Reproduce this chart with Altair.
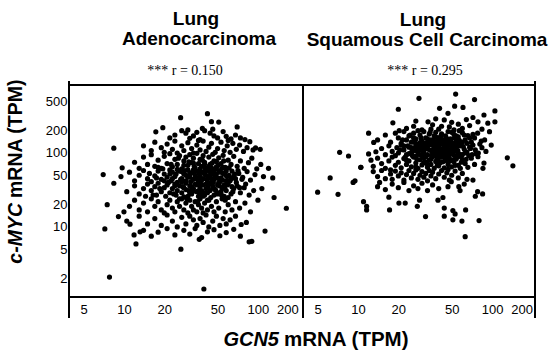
import altair as alt
import pandas as pd

# ---- data (GCN5 TPM, c-MYC TPM) ----
luad_points = [
    (42, 340), (26.5, 300), (45, 265), (51, 262), (70, 225), (38.5, 215), (19.5, 220), (17.3, 193),
    (8.4, 116), (7.0, 51), (7.5, 20), (7.2, 9.4), (7.8, 2.1), (39.5, 1.45), (8.4, 39), (9.7, 63),
    (9.1, 13.8), (10, 16), (11.1, 10.9), (12.3, 5.9), (11.9, 7.8), (13.2, 8.6), (26.6, 5.0), (36.5, 6.8),
    (86, 6.3), (90, 6.4), (113, 8.8), (163, 17.9), (132, 25), (129, 46), (107, 33), (100, 23), (98, 61),
    (96, 117), (87, 142),
    (22, 160), (24, 175), (27, 200), (29, 185), (31, 158), (33, 170), (35, 190), (37, 152), (40, 200),
    (44, 185), (47, 170), (50, 160), (55, 195), (58, 168), (63, 155), (68, 175), (74, 160), (80, 152),
    (30, 205), (46, 210),
    (14, 125), (16, 108), (17, 140), (19, 118), (20, 102), (21, 132), (23, 112), (24, 145), (25, 100),
    (27, 125), (28, 108), (30, 138), (32, 115), (33, 100), (35, 128), (37, 110), (39, 145), (41, 105),
    (43, 120), (45, 135), (48, 102), (50, 115), (53, 140), (56, 108), (59, 125), (62, 102), (65, 135),
    (69, 112), (73, 128), (78, 105), (83, 118), (92, 110), (104, 112), (60, 148), (36, 148),
    (12, 75), (13, 62), (14, 88), (15, 70), (16, 95), (17, 66), (18, 80), (19, 62), (20, 90), (21, 72),
    (22, 98), (23, 65), (24, 82), (25, 70), (26, 92), (27, 61), (28, 78), (29, 88), (30, 68), (31, 95),
    (32, 74), (33, 85), (34, 63), (35, 99), (36, 72), (37, 82), (38, 66), (39, 92), (40, 75), (42, 62),
    (43, 88), (44, 70), (46, 96), (47, 78), (49, 65), (51, 86), (53, 72), (55, 93), (57, 64), (60, 80),
    (63, 70), (66, 90), (70, 66), (74, 78), (79, 62), (85, 74), (90, 85), (105, 70), (120, 62),
    (9.5, 48), (11, 55), (12, 42), (13, 50), (14, 58), (15, 45), (15.5, 53), (16, 41), (17, 49), (18, 57),
    (19, 44), (20, 52), (21, 47), (22, 59), (22.5, 42), (23, 55), (24, 48), (25, 40), (26, 57), (27, 45),
    (28, 52), (29, 42), (30, 59), (31, 48), (32, 54), (33, 44), (34, 50), (35, 57), (36, 42), (37, 48),
    (38, 55), (39, 45), (40, 52), (41, 58), (42, 41), (44, 49), (45, 55), (47, 44), (49, 52), (51, 58),
    (53, 46), (55, 53), (58, 42), (61, 50), (64, 57), (68, 45), (72, 53), (77, 47), (83, 56), (88, 43),
    (95, 51), (110, 48),
    (10.5, 30), (12, 36), (13, 28), (14, 33), (14.5, 26), (15, 38), (16, 31), (17, 35), (17.5, 27), (18, 39),
    (19, 30), (20, 34), (20.5, 26), (21, 37), (22, 29), (23, 33), (24, 38), (24.5, 27), (25, 31), (26, 36),
    (27, 29), (28, 34), (29, 39), (30, 26), (30.5, 31), (31, 36), (32, 28), (33, 33), (34, 38), (35, 30),
    (36, 26), (37, 35), (38, 31), (39, 37), (40, 27), (41, 33), (42, 29), (43, 38), (44, 31), (46, 35),
    (47, 27), (48, 32), (50, 37), (52, 29), (54, 34), (56, 26), (58, 31), (60, 38), (63, 28), (66, 33),
    (70, 36), (74, 29), (79, 34), (86, 27), (93, 31), (28, 25.5), (36, 39.5),
    (11, 19), (12, 23), (13, 17), (14, 21), (15, 16), (16, 24), (17, 19), (18, 22), (19, 17), (20, 15.5),
    (21, 20), (22, 23), (23, 18), (24, 16), (25, 22), (26, 19), (27, 24), (28, 17), (29, 21), (30, 15.5),
    (31, 23), (32, 19), (33, 17), (34, 22), (35, 16), (36, 20), (37, 24), (38, 18), (39, 15.5), (40, 21),
    (42, 17), (43, 23), (45, 19), (47, 16), (49, 22), (51, 18), (54, 24), (57, 16), (60, 20), (64, 17),
    (68, 22), (73, 18), (80, 21), (88, 16),
    (10.5, 12), (13, 14), (15, 11), (17, 13), (19, 10.5), (21, 14.5), (23, 12), (25, 10), (27, 13.5),
    (29, 11), (31, 14), (33, 12.5), (35, 10.5), (37, 13), (39, 11.5), (41, 14.5), (43, 10), (46, 12),
    (49, 14), (52, 10.5), (55, 13), (58, 11), (62, 12.5), (68, 14), (75, 10.8), (82, 11.5),
    (14, 9), (16, 7.5), (18, 8.5), (21, 9.5), (24, 7.8), (28, 9), (31, 8), (34, 9.5), (38, 7.2), (42, 8.6),
    (47, 9.2), (52, 7.6), (58, 8.4), (66, 9.3), (74, 7.5),
    # dense core
    (17.5, 46), (18.5, 33), (19.5, 61), (21.5, 40), (22.5, 70), (23.5, 28), (24.5, 52), (25.5, 85),
    (26.5, 44), (27.5, 35), (28.5, 58), (29.5, 24), (30.5, 76), (31.5, 41), (32.5, 30), (33.5, 66),
    (34.5, 47), (35.5, 22), (36.5, 53), (37.5, 38), (38.5, 80), (39.5, 29), (40.5, 62), (41.5, 44),
    (42.5, 34), (43.5, 56), (44.5, 25), (45.5, 73), (46.5, 40), (47.5, 60), (48.5, 31), (49.5, 46),
    (50.5, 68), (51.5, 36), (52.5, 55), (53.5, 27), (54.5, 43), (55.5, 78), (56.5, 33), (57.5, 50),
    (59, 37), (61, 63), (63, 45), (65, 30), (67, 52), (69, 40), (71, 58), (73, 34), (76, 44), (81, 38),
    (16.5, 27), (18, 64), (20, 42), (22, 52), (24, 36), (26, 24), (28, 68), (30, 47), (32, 35), (34, 57),
    (36, 31), (38, 43), (40, 71), (42, 23), (44, 39), (46, 60), (48, 48), (50, 28), (52, 41), (54, 62),
    (56, 37), (58, 57), (60, 25), (62, 42), (64, 35), (66, 48),
    (25, 60), (27, 41), (29, 32), (31, 54), (33, 73), (35, 37), (37, 61), (39, 26), (41, 50), (43, 66),
    (45, 45), (47, 33), (49, 77), (51, 40), (53, 30), (55, 64), (57, 23), (59, 48), (31, 29), (35, 45),
    (39, 55), (43, 47), (47, 52), (33, 59), (37, 28), (41, 38), (45, 63), (29, 50), (27, 56), (23, 45),
]

lusc_points = [
    (28.5, 548), (53.5, 625), (74, 528), (20, 390), (105, 370), (105, 264), (12, 185), (7.3, 102),
    (8.5, 91), (6.2, 46), (5, 29.5), (7.1, 27.6), (9.2, 40), (9.5, 42), (10.5, 64), (11, 22), (11.6, 19),
    (11.6, 17), (17, 25.3), (17.2, 17), (20.2, 21), (22.5, 21), (27.7, 19), (28.8, 23), (31.9, 13.8),
    (39.5, 23), (43, 25), (44, 18), (44, 14), (51, 16.7), (53, 15), (51, 12.5), (59.6, 12), (63.5, 17),
    (63, 7.4), (80, 12.2), (75, 26), (78, 30), (85, 28), (130, 86), (143, 67),
    (40.6, 401), (46.9, 344), (52.6, 430), (60.7, 413), (87, 326),
    (18.2, 256), (20.3, 200), (23, 215), (33.3, 264), (64.3, 283), (72, 302), (78.5, 264), (93, 253),
    (26, 230), (30, 205), (36, 240), (40, 210), (44, 280), (48, 225), (52, 205), (56, 245), (60, 215),
    (68, 235), (84, 210), (38, 290), (50, 260), (27, 270),
    (14, 150), (16, 175), (17.5, 140), (19, 185), (20, 160), (21, 135), (22, 195), (23, 150), (24, 170),
    (25, 140), (26, 185), (27, 155), (28, 132), (29, 175), (30, 145), (31, 195), (32, 160), (33, 138),
    (34, 180), (35, 150), (36, 130), (37, 170), (38, 190), (39, 145), (40, 160), (41, 135), (42, 182),
    (43, 150), (45, 170), (46, 138), (47, 195), (49, 155), (50, 132), (52, 178), (54, 145), (56, 165),
    (58, 135), (60, 188), (63, 150), (66, 172), (70, 140), (74, 160), (78, 185), (83, 145), (95.7, 194),
    (88, 150),
    (12, 97), (13.6, 104), (13.1, 139), (15, 115), (16, 95), (17, 125), (18, 105), (19, 92), (19.5, 118),
    (20, 100), (21, 128), (22, 110), (23, 95), (24, 120), (25, 102), (25.5, 92), (26, 115), (27, 126),
    (28, 98), (29, 110), (30, 92), (30.5, 122), (31, 104), (32, 115), (33, 95), (34, 128), (35, 108),
    (36, 98), (37, 118), (38, 92), (39, 106), (40, 125), (41, 100), (42, 113), (43, 94), (44, 122),
    (45, 104), (46, 115), (48, 97), (49, 127), (51, 108), (52, 93), (54, 118), (56, 100), (58, 125),
    (60, 95), (62, 112), (65, 103), (68, 120), (71, 95), (75, 110), (79, 100), (84, 118), (90, 105),
    (98.6, 128), (36, 128), (27, 90),
    (10.5, 64), (12.5, 80), (13, 66), (14, 85), (15, 72), (16, 62), (17, 78), (18, 88), (19, 68), (20, 75),
    (21, 63), (22, 84), (23, 70), (24, 78), (25, 65), (26, 88), (27, 73), (28, 62), (29, 81), (30, 69),
    (31, 86), (32, 75), (33, 64), (34, 80), (35, 70), (36, 89), (37, 62), (38, 77), (39, 84), (40, 67),
    (41, 74), (42, 88), (44, 63), (45, 79), (47, 70), (48, 86), (50, 65), (52, 76), (54, 83), (56, 68),
    (58, 62), (60, 80), (63, 72), (66, 64), (70, 85), (78.5, 89), (85.5, 62), (87, 73), (74, 70),
    (13, 56), (14, 48), (15, 58), (16, 45), (17.5, 52), (18, 44), (19, 57), (20, 49), (21, 54), (22, 43),
    (23, 51), (24, 58), (25, 46), (26, 53), (27, 59), (28, 44), (29, 50), (30, 56), (31, 47), (32, 53),
    (33, 42), (34, 58), (35, 49), (36, 55), (38, 45), (40, 52), (42, 58), (44, 47), (46, 54), (48, 43),
    (50, 50), (53, 57), (56, 46), (60, 53), (65, 44), (72, 43), (17.5, 59),
    (14, 35), (14.5, 40), (16, 32), (18, 38), (20, 34), (22, 40), (24, 31), (26, 36), (28, 33), (30, 39),
    (33, 31), (36, 37), (40, 33), (46.9, 35), (49.6, 41), (57.7, 31), (56.5, 35), (62, 38),
    # dense core
    (20.5, 110), (21.5, 150), (22.5, 88), (23.5, 125), (24.5, 175), (25.5, 105), (26.5, 140), (27.5, 82),
    (28.5, 118), (29.5, 160), (30.5, 97), (31.5, 135), (32.5, 72), (33.5, 112), (34.5, 190), (35.5, 90),
    (36.5, 148), (37.5, 105), (38.5, 128), (39.5, 80), (40.5, 115), (41.5, 170), (42.5, 100), (43.5, 138),
    (44.5, 86), (45.5, 125), (46.5, 155), (47.5, 110), (48.5, 78), (49.5, 140), (50.5, 98), (51.5, 120),
    (52.5, 160), (53.5, 90), (54.5, 130), (55.5, 108), (57, 148), (59, 88), (61, 122), (63, 100),
    (65, 135), (67, 92), (69, 115), (72, 128), (76, 98), (81, 132),
    (22, 125), (24, 98), (26, 160), (28, 112), (30, 130), (32, 88), (34, 145), (36, 110), (38, 165),
    (40, 95), (42, 132), (44, 108), (46, 82), (48, 145), (50, 118), (52, 105), (54, 170), (56, 125),
    (58, 95), (60, 140),
    (25, 118), (27, 108), (29, 138), (31, 115), (33, 125), (35, 132), (37, 95), (39, 120), (41, 142),
    (43, 112), (45, 95), (47, 128), (49, 105), (51, 135), (53, 115), (29, 95), (33, 155), (37, 140),
    (41, 88), (45, 150), (31, 75), (35, 82), (39, 68), (43, 76), (47, 92), (51, 80), (55, 88), (27, 65),
    (23, 80), (47, 60), (53, 68), (59, 75), (64, 82), (28, 200), (35, 210), (42, 230), (50, 190),
    (57, 200), (62, 175), (68, 160), (72, 178),
]

luad_gcn5 = [p[0] for p in luad_points]
luad_myc = [p[1] for p in luad_points]
lusc_gcn5 = [p[0] for p in lusc_points]
lusc_myc = [p[1] for p in lusc_points]

x_ticks = [5, 10, 20, 50, 100, 200]
y_ticks = [2, 5, 10, 20, 50, 100, 200, 500]
panel_titles = [["Lung", "Adenocarcinoma"], ["Lung", "Squamous Cell Carcinoma"]]
r_labels = ["*** r = 0.150", "*** r = 0.295"]
x_title = ["GCN5", "mRNA (TPM)"]
y_title = ["c-MYC", "mRNA (TPM)"]

SANS = "Liberation Sans"
SERIF = "Liberation Serif"
W1, W2, H = 234, 232, 212


def text_layer(txt, x, y, size, font=SANS, weight="bold", style="normal", align="center",
               baseline="alphabetic", angle=0, color="black"):
    return alt.Chart(pd.DataFrame({"t": [txt]})).mark_text(
        font=font, fontSize=size, fontWeight=weight, fontStyle=style, align=align,
        baseline=baseline, angle=angle, color=color
    ).encode(text="t:N", x=alt.value(x), y=alt.value(y))


def vline(x, y1, y2):
    return alt.Chart(pd.DataFrame({"v": [0]})).mark_rule(color="black", strokeWidth=2).encode(
        x=alt.value(x), y=alt.value(y1), y2=alt.value(y2)
    )


def hline(y, x1, x2):
    return alt.Chart(pd.DataFrame({"v": [0]})).mark_rule(color="black", strokeWidth=2).encode(
        y=alt.value(y), x=alt.value(x1), x2=alt.value(x2)
    )


def points(gx, my, xmax, show_y):
    df = pd.DataFrame({"gcn5": gx, "myc": my})
    xaxis = alt.Axis(values=x_ticks, format="d", ticks=False, domain=False, grid=False,
                     labelFont=SANS, labelFontSize=13, labelColor="black", labelPadding=6,
                     labelFlush=10, title=None)
    yaxis = alt.Axis(values=y_ticks, format="d", ticks=False, domain=False, grid=False,
                     labelFont=SANS, labelFontSize=13, labelColor="black", labelPadding=2,
                     title=None) if show_y else None
    return alt.Chart(df).mark_circle(size=27, color="black", opacity=1).encode(
        x=alt.X("gcn5:Q", scale=alt.Scale(type="log", domain=[3.89, xmax]), axis=xaxis),
        y=alt.Y("myc:Q", scale=alt.Scale(type="log", domain=[1.13, 830]), axis=yaxis),
    )


left = alt.layer(
    points(luad_gcn5, luad_myc, 217, True),
    hline(0, 0, W1),
    hline(H, 0, W1),
    vline(0, -4, H + 21),
    vline(W1, 0, H + 21),
    text_layer(panel_titles[0][0], 127, -60, 19),
    text_layer(panel_titles[0][1], 130, -40, 19),
    text_layer(r_labels[0], 116, -14.5, 14, font=SERIF, weight="normal", baseline="middle"),
    text_layer(y_title[0], -53, 118, 19.5, style="italic", align="right", baseline="middle", angle=270),
    text_layer(y_title[1], -53, 113, 19.5, align="left", baseline="middle", angle=270),
    text_layer(x_title[0], 210, 261, 20, style="italic", align="right"),
    text_layer(x_title[1], 215, 261, 20.5, align="left"),
).properties(width=W1, height=H)

right = alt.layer(
    points(lusc_gcn5, lusc_myc, 209, False),
    hline(0, 0, W2),
    hline(H, 0, W2),
    vline(W2, -4, H + 21),
    text_layer(panel_titles[1][0], 120, -59, 19),
    text_layer(panel_titles[1][1], 124, -39, 19),
    text_layer(r_labels[1], 122, -14.5, 14, font=SERIF, weight="normal", baseline="middle"),
).properties(width=W2, height=H)

chart = alt.hconcat(left, right, spacing=0, bounds="flush").properties(
    padding={"left": 5, "top": 10, "right": 2, "bottom": 0}
).configure_view(strokeWidth=0)

chart.save("out.html", embed_options={"renderer": "svg", "actions": False})
